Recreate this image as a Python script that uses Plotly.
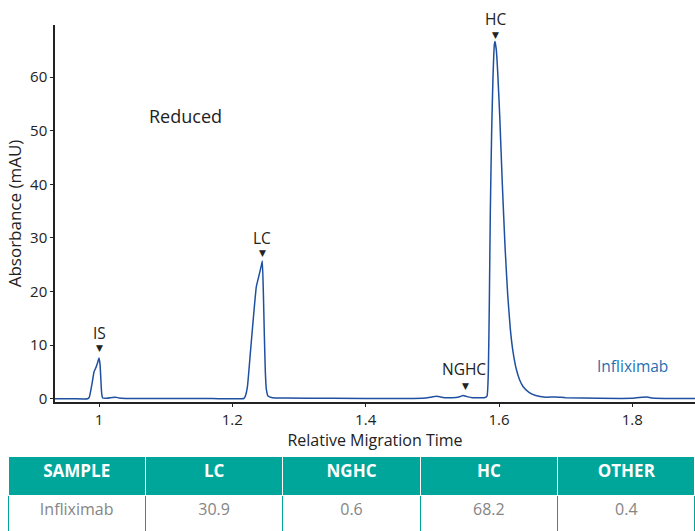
import plotly.graph_objects as go

# Digitized electropherogram (relative migration time, absorbance mAU)
rmt = [0.934, 0.96, 0.983, 0.9855, 0.9895, 0.9925, 0.996, 0.9985, 1.0, 1.0015, 1.0026, 1.004, 1.0055,
       1.012, 1.02, 1.025, 1.03, 1.04, 1.1, 1.17, 1.217, 1.2195, 1.2226, 1.227, 1.2315, 1.236, 1.240,
       1.2435, 1.245, 1.2465, 1.248, 1.2495, 1.251, 1.2535, 1.26, 1.28, 1.35, 1.45, 1.49, 1.5, 1.506,
       1.512, 1.52, 1.53, 1.54, 1.546, 1.552, 1.56, 1.578, 1.582, 1.584, 1.5855, 1.587, 1.589, 1.591,
       1.593, 1.594, 1.596, 1.598, 1.601, 1.605, 1.609, 1.613, 1.617, 1.621, 1.626, 1.631, 1.636,
       1.645, 1.655, 1.67, 1.685, 1.70, 1.75, 1.80, 1.815, 1.822, 1.83, 1.86, 1.894]
absorb = [0.0, 0.0, 0.0, 0.3, 2.8, 5.0, 6.0, 7.0, 7.6, 6.5, 4.1, 1.0, 0.15,
          0.1, 0.25, 0.3, 0.15, 0.05, 0.05, 0.05, 0.05, 0.5, 2.2, 8.5, 15.0, 20.9, 23.0,
          24.8, 25.7, 20.0, 12.0, 5.0, 1.8, 0.5, 0.2, 0.15, 0.1, 0.05, 0.15, 0.35, 0.45,
          0.35, 0.2, 0.2, 0.35, 0.6, 0.4, 0.2, 0.2, 0.5, 5.0, 18.0, 35.0, 50.0, 60.0,
          66.0, 66.6, 65.0, 61.0, 53.0, 40.0, 28.5, 19.5, 13.0, 8.8, 5.5, 3.5, 2.3,
          1.2, 0.6, 0.3, 0.35, 0.2, 0.1, 0.1, 0.3, 0.35, 0.15, 0.05, 0.05]

peak_names = ["IS", "LC", "NGHC", "HC"]
peak_x = [1.0, 1.245, 1.549, 1.594]
peak_y = [7.6, 25.7, 0.6, 66.6]

x_ticks = [1, 1.2, 1.4, 1.6, 1.8]
y_ticks = [0, 10, 20, 30, 40, 50, 60]

table_header = ["SAMPLE", "LC", "NGHC", "HC", "OTHER"]
table_row = ["Infliximab", "30.9", "0.6", "68.2", "0.4"]

W, H = 695, 531
FONT = "Open Sans"
TEAL = "#00a69a"
LINE = "#1f50a0"

fig = go.Figure()
fig.add_trace(go.Scatter(x=rmt, y=absorb, mode="lines",
                         line=dict(color=LINE, width=1.5, shape="spline", smoothing=0.4),
                         showlegend=False, hoverinfo="skip"))

fig.add_trace(go.Table(
    domain=dict(x=[8 / W, 1.0], y=[0, 75 / H]),
    columnwidth=[1, 1, 1, 1, 1],
    header=dict(values=table_header, fill_color=TEAL, line_color="white", line_width=1,
                font=dict(family=FONT, size=17, color="white", weight="bold"),
                align="center", height=39),
    cells=dict(values=[[v] for v in table_row], fill_color="white", line_color=TEAL, line_width=1,
               font=dict(family=FONT, size=16, color="#858585"), align="center", height=38),
))

def ypix(p):
    return (H - p) / H

annotations = []
# (triangle pixel y, label pixel y)
offsets = [(348, 333), (253, 238), (386, 369), (35, 19)]
for name, px, (ty, ly) in zip(peak_names, peak_x, offsets):
    annotations.append(dict(x=px, y=ypix(ty), xref="x", yref="paper", text="▼", showarrow=False,
                            xanchor="center", yanchor="middle",
                            font=dict(family="DejaVu Sans", size=9, color="#222")))
    annotations.append(dict(x=px - (0.002 if name == "NGHC" else 0), y=ypix(ly), xref="x", yref="paper",
                            text=name, showarrow=False, xanchor="center", yanchor="middle",
                            font=dict(family=FONT, size=15.5, color="#222")))
annotations.append(dict(x=1.129, y=ypix(116), xref="x", yref="paper", text="Reduced", showarrow=False,
                        xanchor="center", yanchor="middle",
                        font=dict(family=FONT, size=18, color="#222")))
annotations.append(dict(x=1.7995, y=ypix(366), xref="x", yref="paper", text="Infliximab", showarrow=False,
                        xanchor="center", yanchor="middle",
                        font=dict(family=FONT, size=15.5, color="#1f6fb2")))
fig.update_layout(annotations=annotations)

fig.update_layout(
    width=W, height=H,
    margin=dict(l=0, r=0, t=0, b=0, autoexpand=False),
    paper_bgcolor="white", plot_bgcolor="white",
    font=dict(family=FONT, color="#222"),
    xaxis=dict(domain=[55 / W, 1.0], range=[0.934, 1.894], tickvals=x_ticks,
               ticktext=["1", "1.2", "1.4", "1.6", "1.8"], automargin=False,
               showline=True, linecolor="#222", linewidth=1.5, ticks="outside", ticklen=3,
               tickcolor="#222", showgrid=False, zeroline=False,
               tickfont=dict(family=FONT, size=15, color="#222"),
               title=dict(text="Relative Migration Time", font=dict(family=FONT, size=16, color="#222"),
                          standoff=3)),
    yaxis=dict(domain=[(H - 402) / H, (H - 25) / H], range=[-0.6, 69.7], tickvals=y_ticks,
               automargin=False,
               showline=True, linecolor="#222", linewidth=1.5, ticks="outside", ticklen=3,
               tickcolor="#222", showgrid=False, zeroline=False,
               tickfont=dict(family=FONT, size=15, color="#222"),
               title=dict(text="Absorbance (mAU)", font=dict(family=FONT, size=17, color="#222"),
                          standoff=4)),
)

fig.write_html("out.html")
